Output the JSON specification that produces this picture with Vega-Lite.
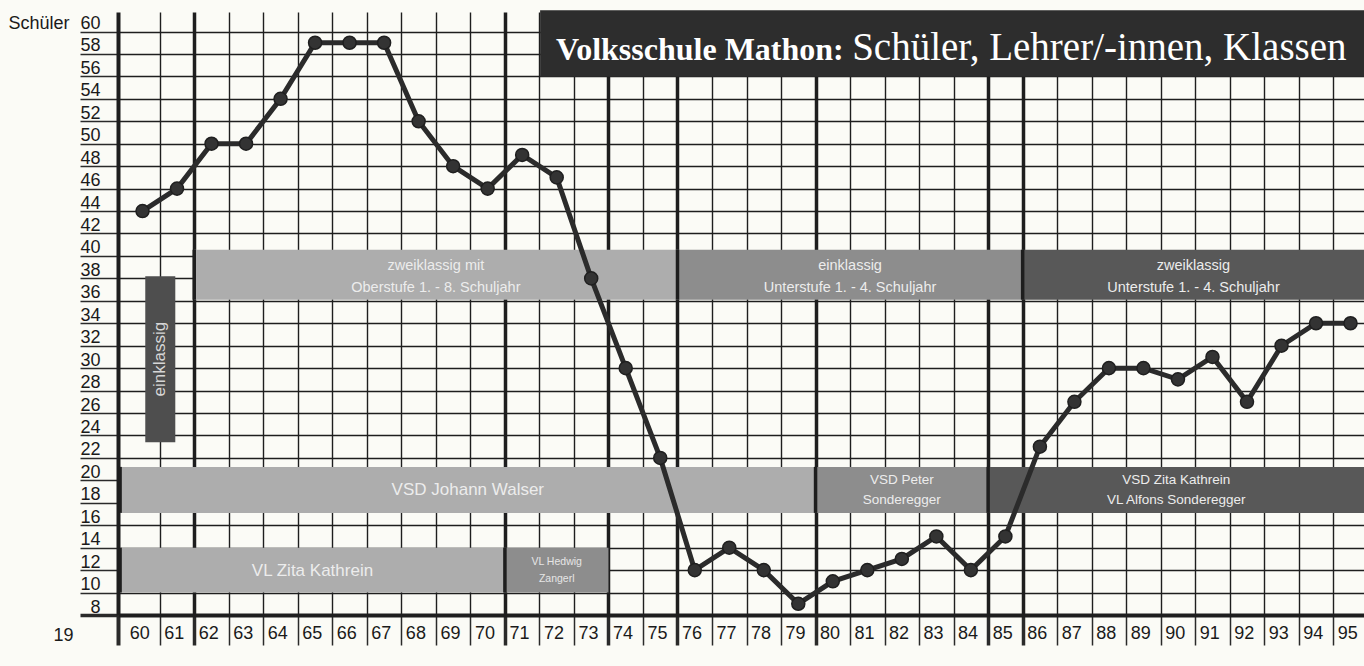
{
  "$schema": "https://vega.github.io/schema/vega-lite/v6.json",
  "width": 1246,
  "height": 603,
  "autosize": "none",
  "padding": {"left": 118, "top": 12, "right": 0, "bottom": 51},
  "background": "#fbfbf6",
  "view": {"stroke": null},
  "config": {"font": "Liberation Sans"},
  "datasets": {
    "schueler": [
      {"jahr": 1960, "schueler": 44}, {"jahr": 1961, "schueler": 46}, {"jahr": 1962, "schueler": 50},
      {"jahr": 1963, "schueler": 50}, {"jahr": 1964, "schueler": 54}, {"jahr": 1965, "schueler": 59},
      {"jahr": 1966, "schueler": 59}, {"jahr": 1967, "schueler": 59}, {"jahr": 1968, "schueler": 52},
      {"jahr": 1969, "schueler": 48}, {"jahr": 1970, "schueler": 46}, {"jahr": 1971, "schueler": 49},
      {"jahr": 1972, "schueler": 47}, {"jahr": 1973, "schueler": 38}, {"jahr": 1974, "schueler": 30},
      {"jahr": 1975, "schueler": 22}, {"jahr": 1976, "schueler": 12}, {"jahr": 1977, "schueler": 14},
      {"jahr": 1978, "schueler": 12}, {"jahr": 1979, "schueler": 9}, {"jahr": 1980, "schueler": 11},
      {"jahr": 1981, "schueler": 12}, {"jahr": 1982, "schueler": 13}, {"jahr": 1983, "schueler": 15},
      {"jahr": 1984, "schueler": 12}, {"jahr": 1985, "schueler": 15}, {"jahr": 1986, "schueler": 23},
      {"jahr": 1987, "schueler": 27}, {"jahr": 1988, "schueler": 30}, {"jahr": 1989, "schueler": 30},
      {"jahr": 1990, "schueler": 29}, {"jahr": 1991, "schueler": 31}, {"jahr": 1992, "schueler": 27},
      {"jahr": 1993, "schueler": 32}, {"jahr": 1994, "schueler": 34}, {"jahr": 1995, "schueler": 34}
    ],
    "klassen": [
      {"label": "zweiklassig mit\nOberstufe 1. - 8. Schuljahr", "von": 1961.5, "bis": 1975.5, "ton": "hell"},
      {"label": "einklassig\nUnterstufe 1. - 4. Schuljahr", "von": 1975.5, "bis": 1985.5, "ton": "mittel"},
      {"label": "zweiklassig\nUnterstufe 1. - 4. Schuljahr", "von": 1985.5, "bis": 1995.4, "ton": "dunkel"}
    ],
    "leitung": [
      {"label": "VSD Johann Walser", "von": 1959.35, "bis": 1979.5, "ton": "hell"},
      {"label": "VSD Peter\nSonderegger", "von": 1979.5, "bis": 1984.5, "ton": "mittel"},
      {"label": "VSD Zita Kathrein\nVL Alfons Sonderegger", "von": 1984.5, "bis": 1995.4, "ton": "dunkel"}
    ],
    "lehrer": [
      {"label": "VL Zita Kathrein", "von": 1959.35, "bis": 1970.5, "ton": "hell"},
      {"label": "VL Hedwig\nZangerl", "von": 1970.5, "bis": 1973.5, "ton": "mittel"}
    ],
    "titel": [
      {"teil1": "Volksschule Mathon:", "teil2": "Schüler, Lehrer/-innen, Klassen"}
    ],
    "einklassig": [
      {"label": "einklassig"}
    ]
  },
  "layer": [
    {
      "data": {"name": "klassen"},
      "mark": {"type": "rect"},
      "encoding": {
        "x": {"field": "von", "type": "quantitative", "scale": {"domain": [1959.29, 1995.39], "nice": false, "zero": false}},
        "x2": {"field": "bis"},
        "y": {"datum": 36.1, "type": "quantitative", "scale": {"domain": [8, 61.74], "nice": false, "zero": false}},
        "y2": {"datum": 40.55},
        "color": {"field": "ton", "type": "nominal", "scale": {"domain": ["hell", "mittel", "dunkel"], "range": ["#adadad", "#8d8d8d", "#585858"]}, "legend": null}
      }
    },
    {
      "data": {"name": "klassen"},
      "mark": {"type": "rule", "color": "#1e1e1e", "strokeWidth": 3.5},
      "encoding": {
        "x": {"field": "von", "type": "quantitative", "scale": {"domain": [1959.29, 1995.39], "nice": false, "zero": false}},
        "y": {"datum": 36.1, "type": "quantitative", "scale": {"domain": [8, 61.74], "nice": false, "zero": false}},
        "y2": {"datum": 40.55}
      }
    },
    {
      "data": {"name": "klassen"},
      "transform": [{"fold": ["von", "bis"], "as": ["rand", "grenze"]}],
      "mark": {"type": "text", "lineBreak": "\n", "lineHeight": 22, "fontSize": 14.5, "font": "Liberation Sans", "color": "#ececec", "baseline": "middle", "align": "center"},
      "encoding": {
        "x": {"aggregate": "mean", "field": "grenze", "type": "quantitative", "scale": {"domain": [1959.29, 1995.39], "nice": false, "zero": false}},
        "y": {"datum": 39.1, "type": "quantitative", "scale": {"domain": [8, 61.74], "nice": false, "zero": false}},
        "text": {"field": "label", "type": "nominal"}
      }
    },
    {
      "data": {"name": "leitung"},
      "mark": {"type": "rect"},
      "encoding": {
        "x": {"field": "von", "type": "quantitative", "scale": {"domain": [1959.29, 1995.39], "nice": false, "zero": false}},
        "x2": {"field": "bis"},
        "y": {"datum": 17.1, "type": "quantitative", "scale": {"domain": [8, 61.74], "nice": false, "zero": false}},
        "y2": {"datum": 21.2},
        "color": {"field": "ton", "type": "nominal", "scale": {"domain": ["hell", "mittel", "dunkel"], "range": ["#adadad", "#8d8d8d", "#585858"]}, "legend": null}
      }
    },
    {
      "data": {"name": "leitung"},
      "mark": {"type": "rule", "color": "#1e1e1e", "strokeWidth": 3.5},
      "encoding": {
        "x": {"field": "von", "type": "quantitative", "scale": {"domain": [1959.29, 1995.39], "nice": false, "zero": false}},
        "y": {"datum": 17.1, "type": "quantitative", "scale": {"domain": [8, 61.74], "nice": false, "zero": false}},
        "y2": {"datum": 21.2}
      }
    },
    {
      "data": {"name": "leitung"},
      "transform": [{"filter": "datum.ton == 'hell'"}, {"fold": ["von", "bis"], "as": ["rand", "grenze"]}],
      "mark": {"type": "text", "fontSize": 17, "font": "Liberation Sans", "color": "#ececec", "baseline": "middle", "align": "center"},
      "encoding": {
        "x": {"aggregate": "mean", "field": "grenze", "type": "quantitative", "scale": {"domain": [1959.29, 1995.39], "nice": false, "zero": false}},
        "y": {"datum": 19.13, "type": "quantitative", "scale": {"domain": [8, 61.74], "nice": false, "zero": false}},
        "text": {"field": "label", "type": "nominal"}
      }
    },
    {
      "data": {"name": "leitung"},
      "transform": [{"filter": "datum.ton != 'hell'"}, {"fold": ["von", "bis"], "as": ["rand", "grenze"]}],
      "mark": {"type": "text", "lineBreak": "\n", "lineHeight": 20, "fontSize": 13.5, "font": "Liberation Sans", "color": "#ececec", "baseline": "middle", "align": "center"},
      "encoding": {
        "x": {"aggregate": "mean", "field": "grenze", "type": "quantitative", "scale": {"domain": [1959.29, 1995.39], "nice": false, "zero": false}},
        "y": {"datum": 20.03, "type": "quantitative", "scale": {"domain": [8, 61.74], "nice": false, "zero": false}},
        "text": {"field": "label", "type": "nominal"}
      }
    },
    {
      "data": {"name": "lehrer"},
      "mark": {"type": "rect"},
      "encoding": {
        "x": {"field": "von", "type": "quantitative", "scale": {"domain": [1959.29, 1995.39], "nice": false, "zero": false}},
        "x2": {"field": "bis"},
        "y": {"datum": 10.0, "type": "quantitative", "scale": {"domain": [8, 61.74], "nice": false, "zero": false}},
        "y2": {"datum": 14.0},
        "color": {"field": "ton", "type": "nominal", "scale": {"domain": ["hell", "mittel", "dunkel"], "range": ["#adadad", "#8d8d8d", "#585858"]}, "legend": null}
      }
    },
    {
      "data": {"name": "lehrer"},
      "mark": {"type": "rule", "color": "#1e1e1e", "strokeWidth": 3.5},
      "encoding": {
        "x": {"field": "von", "type": "quantitative", "scale": {"domain": [1959.29, 1995.39], "nice": false, "zero": false}},
        "y": {"datum": 10.0, "type": "quantitative", "scale": {"domain": [8, 61.74], "nice": false, "zero": false}},
        "y2": {"datum": 14.0}
      }
    },
    {
      "data": {"name": "lehrer"},
      "transform": [{"filter": "datum.ton == 'hell'"}, {"fold": ["von", "bis"], "as": ["rand", "grenze"]}],
      "mark": {"type": "text", "fontSize": 17, "font": "Liberation Sans", "color": "#ececec", "baseline": "middle", "align": "center"},
      "encoding": {
        "x": {"aggregate": "mean", "field": "grenze", "type": "quantitative", "scale": {"domain": [1959.29, 1995.39], "nice": false, "zero": false}},
        "y": {"datum": 11.95, "type": "quantitative", "scale": {"domain": [8, 61.74], "nice": false, "zero": false}},
        "text": {"field": "label", "type": "nominal"}
      }
    },
    {
      "data": {"name": "lehrer"},
      "transform": [{"filter": "datum.ton != 'hell'"}, {"fold": ["von", "bis"], "as": ["rand", "grenze"]}],
      "mark": {"type": "text", "lineBreak": "\n", "lineHeight": 17, "fontSize": 10.5, "font": "Liberation Sans", "color": "#e6e6e6", "baseline": "middle", "align": "center"},
      "encoding": {
        "x": {"aggregate": "mean", "field": "grenze", "type": "quantitative", "scale": {"domain": [1959.29, 1995.39], "nice": false, "zero": false}},
        "y": {"datum": 12.72, "type": "quantitative", "scale": {"domain": [8, 61.74], "nice": false, "zero": false}},
        "text": {"field": "label", "type": "nominal"}
      }
    },
    {
      "data": {"name": "einklassig"},
      "mark": {"type": "rect", "color": "#4e4e4e"},
      "encoding": {
        "x": {"datum": 1960.08, "type": "quantitative", "scale": {"domain": [1959.29, 1995.39], "nice": false, "zero": false}},
        "x2": {"datum": 1960.95},
        "y": {"datum": 23.4, "type": "quantitative", "scale": {"domain": [8, 61.74], "nice": false, "zero": false}},
        "y2": {"datum": 38.2}
      }
    },
    {
      "data": {"name": "einklassig"},
      "mark": {"type": "text", "angle": 270, "fontSize": 17, "font": "Liberation Sans", "color": "#d6d6d6", "baseline": "middle", "align": "center"},
      "encoding": {
        "x": {"datum": 1960.5, "type": "quantitative", "scale": {"domain": [1959.29, 1995.39], "nice": false, "zero": false}},
        "y": {"datum": 30.8, "type": "quantitative", "scale": {"domain": [8, 61.74], "nice": false, "zero": false}},
        "text": {"field": "label", "type": "nominal"}
      }
    },
    {
      "data": {"name": "titel"},
      "mark": {"type": "rect", "color": "#2d2d2d"},
      "encoding": {
        "x": {"datum": 1971.52, "type": "quantitative", "scale": {"domain": [1959.29, 1995.39], "nice": false, "zero": false}},
        "x2": {"datum": 1995.39},
        "y": {"datum": 55.96, "type": "quantitative", "scale": {"domain": [8, 61.74], "nice": false, "zero": false}},
        "y2": {"datum": 61.9}
      }
    },
    {
      "data": {"name": "titel"},
      "mark": {"type": "text", "fontSize": 32, "fontWeight": "bold", "font": "Liberation Serif", "color": "#ffffff", "baseline": "alphabetic", "align": "left"},
      "encoding": {
        "x": {"datum": 1971.98, "type": "quantitative", "scale": {"domain": [1959.29, 1995.39], "nice": false, "zero": false}},
        "y": {"datum": 57.5, "type": "quantitative", "scale": {"domain": [8, 61.74], "nice": false, "zero": false}},
        "text": {"field": "teil1", "type": "nominal"}
      }
    },
    {
      "data": {"name": "titel"},
      "mark": {"type": "text", "fontSize": 39, "font": "Liberation Serif", "color": "#ffffff", "baseline": "alphabetic", "align": "left"},
      "encoding": {
        "x": {"datum": 1980.56, "type": "quantitative", "scale": {"domain": [1959.29, 1995.39], "nice": false, "zero": false}},
        "y": {"datum": 57.5, "type": "quantitative", "scale": {"domain": [8, 61.74], "nice": false, "zero": false}},
        "text": {"field": "teil2", "type": "nominal"}
      }
    },
    {
      "data": {"name": "schueler"},
      "mark": {
        "type": "line",
        "color": "#2b2b2b",
        "strokeWidth": 5,
        "point": {"filled": true, "size": 170, "color": "#333333", "stroke": "#1f1f1f", "strokeWidth": 1.5}
      },
      "encoding": {
        "x": {
          "field": "jahr",
          "type": "quantitative",
          "scale": {"domain": [1959.29, 1995.39], "nice": false, "zero": false},
          "axis": {
            "title": "19",
            "titleFont": "Liberation Sans",
            "titleFontSize": 18,
            "titleFontWeight": "normal",
            "titleColor": "#1a1a1a",
            "titleX": -55,
            "titleY": 20,
            "titleAlign": "center",
            "titleBaseline": "middle",
            "titleAngle": 0,
            "tickCount": 100,
            "values": [1959.29, 1959.5, 1960.5, 1961.5, 1962.5, 1963.5, 1964.5, 1965.5, 1966.5, 1967.5, 1968.5, 1969.5, 1970.5, 1971.5, 1972.5, 1973.5, 1974.5, 1975.5, 1976.5, 1977.5, 1978.5, 1979.5, 1980.5, 1981.5, 1982.5, 1983.5, 1984.5, 1985.5, 1986.5, 1987.5, 1988.5, 1989.5, 1990.5, 1991.5, 1992.5, 1993.5, 1994.5],
            "labelExpr": "datum.value < 1959.4 ? '' : substring(toString(datum.value + 0.5), 2, 4)",
            "labelAlign": "left",
            "labelBaseline": "top",
            "labelOffset": 4,
            "labelPadding": -21,
            "labelFont": "Liberation Sans",
            "labelFontSize": 18,
            "labelColor": "#1a1a1a",
            "labelFlush": false,
            "labelOverlap": false,
            "labelBound": false,
            "tickSize": 30,
            "tickColor": "#2a2a2a",
            "tickWidth": {"condition": [{"test": "datum.value < 1959.4", "value": 4}, {"test": "indexof([1961.5, 1970.5, 1973.5, 1975.5, 1979.5, 1984.5, 1985.5], datum.value) >= 0", "value": 3.5}], "value": 1.5},
            "tickOpacity": {"condition": {"test": "datum.value == 1959.5", "value": 0}, "value": 1},
            "domainColor": "#1e1e1e",
            "domainWidth": 4,
            "grid": true,
            "gridColor": "#1e1e1e",
            "gridWidth": {"condition": {"test": "indexof([1961.5, 1970.5, 1973.5, 1975.5, 1979.5, 1984.5, 1985.5], datum.value) >= 0", "value": 3.5}, "value": 1.4},
            "gridOpacity": {"condition": {"test": "datum.value < 1960", "value": 0}, "value": 1}
          }
        },
        "y": {
          "field": "schueler",
          "type": "quantitative",
          "scale": {"domain": [8, 61.74], "nice": false, "zero": false},
          "axis": {
            "title": "Schüler",
            "titleAngle": 0,
            "titleX": -110,
            "titleY": 16.3,
            "titleAlign": "left",
            "titleBaseline": "alphabetic",
            "titleFont": "Liberation Sans",
            "titleFontSize": 18,
            "titleFontWeight": "normal",
            "titleColor": "#1a1a1a",
            "tickCount": 100,
            "format": "d",
            "values": [8, 10, 12, 14, 16, 18, 20, 22, 24, 26, 28, 30, 32, 34, 36, 38, 40, 42, 44, 46, 48, 50, 52, 54, 56, 58, 60],
            "labelAlign": "right",
            "labelBaseline": "alphabetic",
            "labelOffset": -3,
            "labelPadding": -20,
            "labelFont": "Liberation Sans",
            "labelFontSize": 18,
            "labelColor": "#1a1a1a",
            "labelFlush": false,
            "labelOverlap": false,
            "labelBound": false,
            "tickSize": 38,
            "tickColor": "#2a2a2a",
            "tickWidth": {"condition": {"test": "datum.value == 8", "value": 3.5}, "value": 1.5},
            "domainColor": "#1e1e1e",
            "domainWidth": 4,
            "grid": true,
            "gridColor": "#1e1e1e",
            "gridWidth": 1.5
          }
        }
      }
    }
  ]
}
